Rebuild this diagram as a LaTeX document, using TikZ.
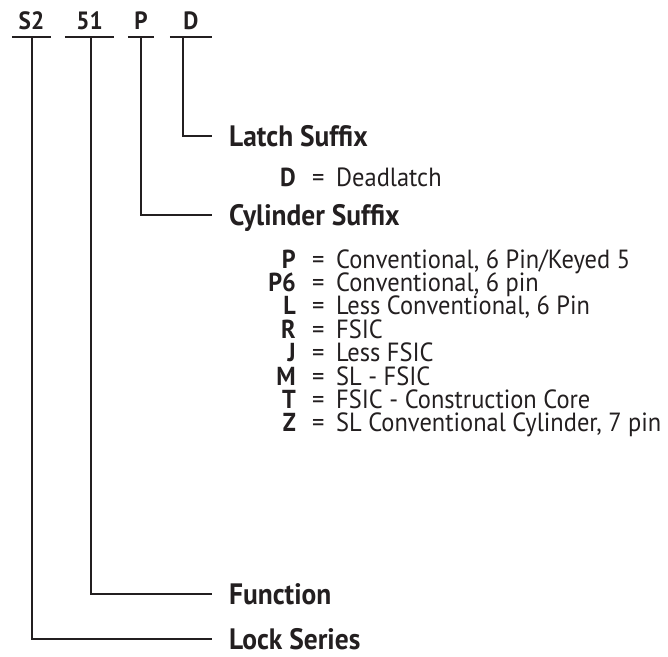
\documentclass[tikz,border=0pt]{standalone}
\usepackage{fontspec}
\setmainfont{PT Sans}[FakeStretch=0.93]
\usepackage{xcolor}
\usetikzlibrary{positioning}
\definecolor{ink}{HTML}{231F20}
\newcommand{\keyeq}{\makebox[24pt][l]{=}}

\begin{document}
\begin{tikzpicture}[x=1pt, y=-1pt,
    code/.style={font=\fontsize{25}{25}\bfseries, text=ink, inner sep=0pt, text height=17pt, text depth=0pt},
    part/.style={font=\fontsize{29.5}{29.5}\bfseries, text=ink, inner sep=0pt, anchor=west, text height=21pt, text depth=0pt},
    key/.style={font=\fontsize{26}{26}\bfseries, text=ink, inner sep=0pt, anchor=east, text height=18pt, text depth=0pt},
    desc/.style={font=\fontsize{26.3}{26.3}\selectfont, text=ink, inner sep=0pt, text height=18pt, text depth=0pt},
    leader/.style={draw=ink, line width=2pt}]
\useasboundingbox (0,0) rectangle (668,656);

% Model number
\node[code, minimum width=39pt, anchor=south] (cS2) at (31.5,30) {S2};
\node[code, minimum width=49pt, anchor=south] (c51) at (89.5,30) {51};
\node[code, minimum width=26pt, anchor=south] (cP) at (141,30) {P};
\node[code, minimum width=42pt, anchor=south] (cD) at (191,30) {D};
\draw[leader] ([yshift=-7pt]cS2.south west) -- ([yshift=-7pt]cS2.south east);
\draw[leader] ([yshift=-7pt]c51.south west) -- ([yshift=-7pt]c51.south east);
\draw[leader] ([yshift=-7pt]cP.south west) -- ([yshift=-7pt]cP.south east);
\draw[leader] ([yshift=-7pt]cD.south west) -- ([yshift=-7pt]cD.south east);

% Parts
\node[part] (latch) at (229,136) {Latch Suffix};
\node[part] (cyl) at (229,215) {Cylinder Suffix};
\node[part] (func) at (229,594) {Function};
\node[part] (series) at (229,639) {Lock Series};

\draw[leader] ([xshift=-8pt, yshift=-7pt]cD.south) |- ([xshift=-17pt]latch.west);
\draw[leader] ([yshift=-7pt]cP.south) |- ([xshift=-17pt]cyl.west);
\draw[leader] ([xshift=1.5pt, yshift=-7pt]c51.south) |- ([xshift=-17pt]func.west);
\draw[leader] ([yshift=-7pt]cS2.south) |- ([xshift=-17pt]series.west);

% Latch suffix
\node[key] (kD) at (296,177) {D};
\node[desc, right=16pt of kD] (dD) {\keyeq Deadlatch};

% Cylinder suffix
\node[key] (kP) at (296,259) {P};
\node[desc, right=16pt of kP] (dP) {\keyeq Conventional, 6 Pin/Keyed 5};
\node[key] (kPsix) at (296,282.4) {P6};
\node[desc, right=16pt of kPsix] (dPsix) {\keyeq Conventional, 6 pin};
\node[key] (kL) at (296,305.8) {L};
\node[desc, right=16pt of kL] (dL) {\keyeq Less Conventional, 6 Pin};
\node[key] (kR) at (296,329.2) {R};
\node[desc, right=16pt of kR] (dR) {\keyeq FSIC};
\node[key] (kJ) at (296,352.6) {J};
\node[desc, right=16pt of kJ] (dJ) {\keyeq Less FSIC};
\node[key] (kM) at (296,376) {M};
\node[desc, right=16pt of kM] (dM) {\keyeq SL - FSIC};
\node[key] (kT) at (296,399.4) {T};
\node[desc, right=16pt of kT] (dT) {\keyeq FSIC - Construction Core};
\node[key] (kZ) at (296,422.8) {Z};
\node[desc, right=16pt of kZ] (dZ) {\keyeq SL Conventional Cylinder, 7 pin};

\end{tikzpicture}
\end{document}
